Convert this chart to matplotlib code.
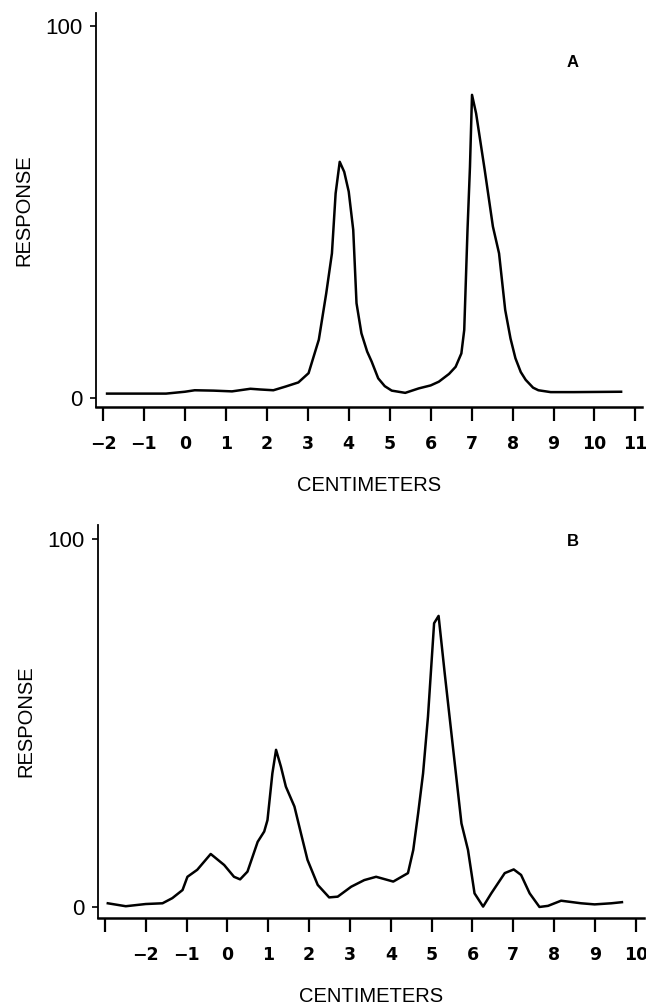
import matplotlib.pyplot as plt

# --- trace A (top panel) ---
xa = [-1.9, -1.0, -0.46, 0.0, 0.24, 0.7, 1.15, 1.6, 1.85, 2.16, 2.46, 2.77,
      2.92, 3.02, 3.27, 3.45, 3.59, 3.68, 3.78, 3.89, 4.0, 4.11, 4.19, 4.31,
      4.45, 4.56, 4.72, 4.88, 5.05, 5.38, 5.71, 6.0, 6.2, 6.45, 6.61, 6.75,
      6.82, 6.9, 6.96, 7.01, 7.11, 7.32, 7.52, 7.67, 7.82, 7.95, 8.07, 8.2,
      8.32, 8.5, 8.63, 8.93, 9.5, 10.65]
ya = [1.2, 1.2, 1.2, 1.7, 2.1, 2.0, 1.8, 2.5, 2.3, 2.1, 3.1, 4.2,
      5.7, 6.7, 15.7, 28.1, 38.9, 55.0, 63.5, 60.8, 55.5, 45.2, 25.5, 17.4,
      12.5, 9.8, 5.3, 3.2, 2.0, 1.4, 2.6, 3.4, 4.4, 6.5, 8.4, 12.0,
      18.3, 45.2, 62.2, 81.5, 76.5, 61.3, 46.1, 38.9, 23.7, 16.0, 10.7, 7.0,
      4.9, 2.8, 2.1, 1.6, 1.6, 1.7]

# --- trace B (bottom panel) ---
xb = [-2.93, -2.49, -2.0, -1.59, -1.35, -1.1, -0.98, -0.74, -0.41, -0.08,
      0.16, 0.31, 0.49, 0.74, 0.9, 0.98, 1.1, 1.19, 1.31, 1.43, 1.64, 1.8,
      1.96, 2.21, 2.49, 2.7, 3.03, 3.35, 3.64, 3.77, 4.06, 4.42, 4.55, 4.67,
      4.79, 4.91, 5.06, 5.17, 5.32, 5.52, 5.73, 5.89, 6.05, 6.26, 6.46, 6.79,
      7.01, 7.19, 7.4, 7.64, 7.85, 8.17, 8.66, 8.99, 9.4, 9.66]
yb = [1.0, 0.2, 0.8, 1.0, 2.4, 4.6, 8.2, 10.1, 14.4, 11.4,
      8.2, 7.5, 9.6, 17.7, 20.5, 23.6, 36.3, 42.7, 38.1, 32.7, 27.3, 20.0,
      12.8, 6.0, 2.6, 2.8, 5.5, 7.3, 8.2, 7.8, 6.9, 9.2, 15.5, 25.5,
      36.3, 51.7, 77.1, 79.1, 63.5, 43.6, 22.7, 15.5, 3.7, 0.1, 3.7, 9.2,
      10.2, 8.7, 3.7, 0.0, 0.3, 1.7, 1.0, 0.7, 1.0, 1.3]

ticks_a = list(range(-2, 12))
ticks_b = list(range(-3, 11))
labels_a = [str(t).replace('-', '\u2212') for t in ticks_a]
labels_b = [''] + [str(t).replace('-', '\u2212') for t in ticks_b[1:]]

W, H = 646, 1006
fig = plt.figure(figsize=(W / 100, H / 100), dpi=100)


def make_panel(rect, xs, ys, xlim, ylim, ticks, labels, letter, letter_xy):
    ax = fig.add_axes(rect)
    ax.plot(xs, ys, color='black', lw=1.8, solid_joinstyle='round')
    ax.set_xlim(*xlim)
    ax.set_ylim(*ylim)
    for s in ['top', 'right']:
        ax.spines[s].set_visible(False)
    ax.spines['left'].set_linewidth(1.3)
    ax.spines['bottom'].set_linewidth(1.8)

    ax.set_xticks(ticks)
    ax.set_xticklabels(labels, fontfamily='Liberation Sans Narrow',
                       fontweight='bold', fontsize=12.5)
    ax.tick_params(axis='x', direction='out', length=10, width=1.6, pad=10)

    ax.set_yticks([0, 100])
    ax.set_yticklabels(['0', '100'], fontfamily='Liberation Sans', fontsize=16)
    ax.tick_params(axis='y', direction='out', length=4, width=1.2, pad=6)

    ax.set_xlabel('CENTIMETERS', fontfamily='Liberation Sans', fontsize=14.5,
                  va='center')
    ax.xaxis.set_label_coords(0.5, -0.2)
    ax.set_ylabel('RESPONSE', fontfamily='Liberation Sans', fontsize=14.5,
                  va='center')
    ax.yaxis.set_label_coords(-0.132, 0.5)

    ax.text(letter_xy[0], letter_xy[1], letter, fontfamily='Liberation Sans',
            fontweight='bold', fontsize=12, ha='center', va='center')
    return ax


# top panel: axis box from y-axis (x=96px) to 642px, 13px..407px from top
make_panel([96 / W, 1 - 407 / H, 546 / W, 394 / H], xa, ya,
           (-2.17, 11.16), (-2.4, 103.5), ticks_a, labels_a, 'A', (9.46, 90.3))

# bottom panel
make_panel([98 / W, 1 - 918 / H, 546 / W, 393 / H], xb, yb,
           (-3.17, 10.2), (-3.0, 103.8), ticks_b, labels_b, 'B', (8.46, 99.2))

plt.savefig('out.png', dpi=100)
